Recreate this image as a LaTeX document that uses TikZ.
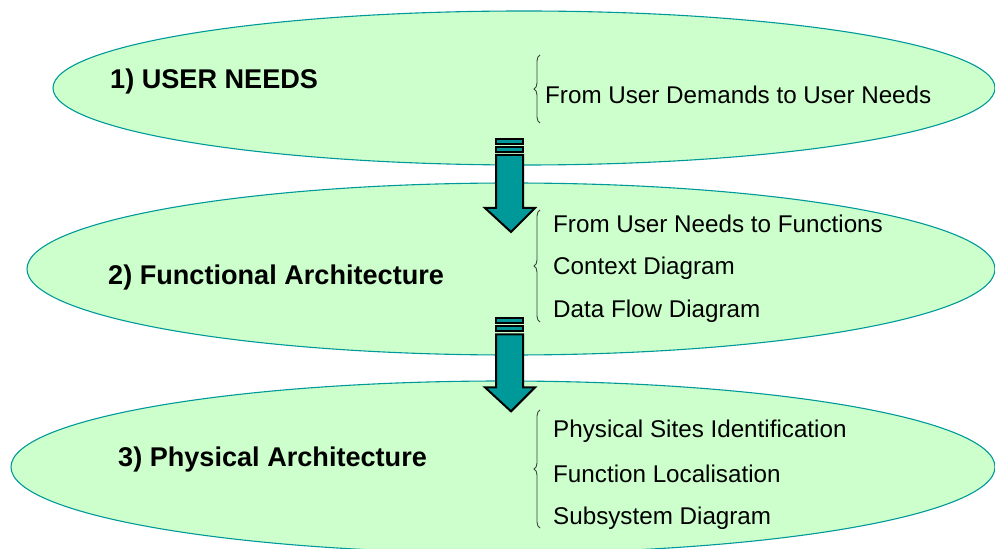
\documentclass[tikz,border=0pt]{standalone}
\usepackage{fontspec}
\setmainfont{Liberation Sans}
\usetikzlibrary{shapes.geometric,decorations.pathreplacing}
\definecolor{lgreen}{HTML}{CCFFCC}
\definecolor{tealline}{HTML}{009999}
\definecolor{tealfill}{HTML}{009999}
\definecolor{bracegray}{HTML}{404040}
\tikzset{
  stage/.style={ellipse, draw=tealline, fill=lgreen, line width=1.1bp, inner sep=0pt},
  title/.style={anchor=west, inner sep=0pt, font=\fontsize{27.2}{30}\selectfont\bfseries},
  item/.style={anchor=west, inner sep=0pt, font=\fontsize{24.3}{28}\selectfont},
  bracestyle/.style={decorate, decoration={brace, amplitude=6bp}, draw=bracegray, line width=0.9bp},
  blockarrow/.style={fill=tealfill, draw=black, line width=2bp, line join=miter}
}
\newcommand{\stripedarrow}[1]{%
  \begin{scope}[yshift=#1]
    \path[blockarrow] (496,139) rectangle (523,144);
    \path[blockarrow] (496,147) rectangle (523,152);
    \path[blockarrow] (496,155) -- (523,155) -- (523,208) -- (535,208) -- (511,232) -- (485,208) -- (496,208) -- cycle;
  \end{scope}}
\begin{document}
\begin{tikzpicture}[x=1bp,y=-1bp]
  \useasboundingbox (0,0) rectangle (995,549);
  \clip (0,0) rectangle (995,549);
  \node[stage, minimum width=942bp, minimum height=154bp] (e1) at (524,88) {};
  \node[stage, minimum width=968bp, minimum height=172bp] (e2) at (511,269) {};
  \node[stage, minimum width=984bp, minimum height=172bp] (e3) at (503,467) {};

  \stripedarrow{0}
  \stripedarrow{-180}

  \node[title] (t1) at (110,81) {1) USER NEEDS};
  \node[title] (t2) at (108,277) {2) Functional Architecture};
  \node[title] (t3) at (118,459) {3) Physical Architecture};

  \coordinate (b1t) at (540,55);  \coordinate (b1b) at (540,123);
  \coordinate (b2t) at (540,210); \coordinate (b2b) at (540,322);
  \coordinate (b3t) at (540,410); \coordinate (b3b) at (540,528);
  \draw[bracestyle] (b1b) -- (b1t);
  \draw[bracestyle] (b2b) -- (b2t);
  \draw[bracestyle] (b3b) -- (b3t);

  \node[item] (i11) at (545,95) {From User Demands to User Needs};
  \node[item] (i21) at (553,224) {From User Needs to Functions};
  \node[item] (i22) at (553,268) {Context Diagram};
  \node[item] (i23) at (553,311) {Data Flow Diagram};
  \node[item] (i31) at (553,431) {Physical Sites Identification};
  \node[item] (i32) at (553,474) {Function Localisation};
  \node[item] (i33) at (553,518) {Subsystem Diagram};
\end{tikzpicture}
\end{document}
